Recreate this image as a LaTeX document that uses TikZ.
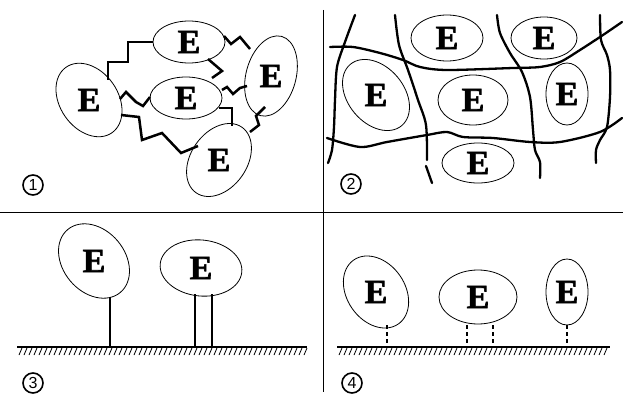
\documentclass[tikz,border=0pt]{standalone}
\usepackage{fontspec}
\newfontfamily\numfont{Liberation Sans}
\newfontfamily\letterfont[FakeBold=1.8]{Liberation Serif Bold}
\usetikzlibrary{shapes.geometric}
\tikzset{
  ell/.style={draw, ellipse, line width=0.8pt, inner sep=0pt},
  eletter/.style={font=\letterfont\fontsize{34}{34}\selectfont, inner sep=0pt},
  bond/.style={line width=2.5pt, line join=miter},
  grain/.style={line width=2.3pt, line cap=round},
  divider/.style={line width=0.9pt},
  ground/.style={line width=2.8pt},
  hatch/.style={line width=0.8pt},
  stick/.style={line width=2.3pt},
  thinstick/.style={line width=1.6pt},
  dstick/.style={line width=2.4pt, dash pattern=on 4pt off 3pt},
  num/.style={circle, draw, line width=1.6pt, inner sep=0pt, minimum size=20pt, font=\numfont\fontsize{16}{16}\selectfont}
}
\begin{document}
\begin{tikzpicture}[x=1pt, y=-1pt]
\useasboundingbox (0,0) rectangle (623,401);

% dividers
\draw[divider] (0,212) -- (623,212);
\draw[divider] (323,10) -- (323,392);

% ---------- panel 1 ----------
\node[ell, minimum width=72pt, minimum height=42pt] (T) at (189,42) {};
\node[ell, minimum width=80pt, minimum height=58pt, rotate=-55] (L) at (89,100) {};
\node[ell, minimum width=72pt, minimum height=42pt] (C) at (186,98) {};
\node[ell, minimum width=50pt, minimum height=82pt, rotate=-15] (R) at (271,76) {};
\node[ell, minimum width=80pt, minimum height=56pt, rotate=55] (B) at (219,160) {};
\foreach \n in {T,L,C,R,B} \node[eletter] (e\n) at (\n) {E};

\draw[bond] (108,80) -- (108,62) -- (128,62) -- (128,42) -- (T.west);
\draw[bond] (224,36) -- (231,44) -- (240,37) -- (250,49);
\draw[bond] (208,59) -- (222,71) -- (212,78);
\draw[bond] (120,99) -- (126,92) -- (136,102) -- (143,106) -- (150,97);
\draw[bond] (222,90) -- (227,87) -- (233,94) -- (240,88) -- (247,86);
\draw[bond] (219,108) -- (232,108) -- (232,126);
\draw[bond] (265,107) -- (256,116) -- (259,125) -- (250,132);
\draw[bond] (121,115) -- (139,117) -- (142,140) -- (162,133) -- (181,153) -- (198,146);

\node[num] (n1) at (33,185) {1};

% ---------- panel 2 ----------
\node[ell, minimum width=72pt, minimum height=46pt] (P) at (447,38) {};
\node[ell, minimum width=66pt, minimum height=42pt] (Q) at (544,38) {};
\node[ell, minimum width=80pt, minimum height=56pt, rotate=-50] (S) at (376,95) {};
\node[ell, minimum width=70pt, minimum height=50pt] (M) at (473,100) {};
\node[ell, minimum width=42pt, minimum height=62pt] (N) at (567,94) {};
\node[ell, minimum width=72pt, minimum height=40pt] (D) at (478,163) {};
\foreach \n in {P,Q,S,M,N,D} \node[eletter] (e\n) at (\n) {E};

\draw[grain] plot[smooth, tension=0.5] coordinates {(330,47) (353,47) (380,53) (403,60) (420,67) (447,70) (513,68) (540,67) (560,62) (580,50) (603,35) (622,22)};
\draw[grain] plot[smooth, tension=0.5] coordinates {(327,138) (360,147) (387,142) (427,135) (447,132) (463,137) (493,138) (530,142) (560,142) (600,132) (622,118)};
\draw[grain] plot[smooth, tension=0.5] coordinates {(355,15) (345,42) (337,67) (335,100) (334,127) (332,150) (328,163)};
\draw[grain] plot[smooth, tension=0.5] coordinates {(395,15) (399,45) (408,70) (418,100) (426,125) (427,160)};
\draw[grain] (426,166) -- (432,183);
\draw[grain] plot[smooth, tension=0.5] coordinates {(497,15) (500,33) (510,53) (522,72) (530,97) (533,130) (535,150) (540,162) (540,178)};
\draw[grain] plot[smooth, tension=0.5] coordinates {(600,15) (601,40) (607,55) (610,70) (610,97) (607,127) (600,140) (596,150) (596,163)};

\node[num] (n2) at (351,184) {2};

% ---------- panel 3 ----------
\node[ell, minimum width=82pt, minimum height=62pt, rotate=-50] (U) at (94,261) {};
\node[ell, minimum width=82pt, minimum height=56pt, rotate=-6] (V) at (201,268) {};
\foreach \n in {U,V} \node[eletter] (e\n) at (\n) {E};

\coordinate (g3a) at (17,347);
\coordinate (g3b) at (307,347);
\draw[ground] (g3a) -- (g3b);
\foreach \x in {19,24,...,305} \draw[hatch] (\x,355) -- (\x+3,348);

\draw[stick] (110,297) -- (110,347);
\draw[thinstick] (195,294) -- (195,347);
\draw[thinstick] (212,294) -- (212,347);

\node[num] (n3) at (33,383) {3};

% ---------- panel 4 ----------
\node[ell, minimum width=78pt, minimum height=58pt, rotate=-55] (W) at (376,292) {};
\node[ell, minimum width=78pt, minimum height=54pt] (X) at (478,297) {};
\node[ell, minimum width=42pt, minimum height=66pt] (Y) at (567,292) {};
\foreach \n in {W,X,Y} \node[eletter] (e\n) at (\n) {E};

\coordinate (g4a) at (337,347);
\coordinate (g4b) at (610,347);
\draw[ground] (g4a) -- (g4b);
\foreach \x in {339,344,...,608} \draw[hatch] (\x,355) -- (\x+3,348);

\draw[dstick] (387,325) -- (387,347);
\draw[dstick] (467,325) -- (467,347);
\draw[dstick] (493,325) -- (493,347);
\draw[dstick] (567,325) -- (567,347);

\node[num] (n4) at (352,383) {4};
\end{tikzpicture}
\end{document}
